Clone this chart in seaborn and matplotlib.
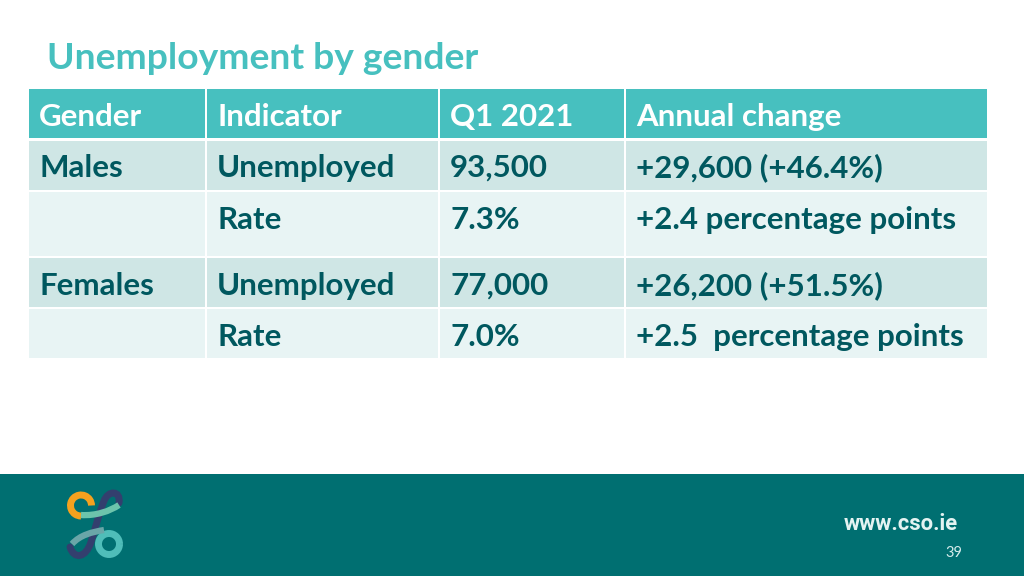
import matplotlib
matplotlib.use("Agg")
import matplotlib.pyplot as plt
from matplotlib.patches import Arc, Rectangle, PathPatch
from matplotlib.path import Path
import seaborn as sns

sns.set_theme(style="white")
plt.rcParams['font.family'] = ['Lato', 'DejaVu Sans']

title = "Unemployment by gender"
header = ["Gender", "Indicator", "Q1 2021", "Annual change"]
genders = ["Males", "", "Females", ""]
indicators = ["Unemployed", "Rate", "Unemployed", "Rate"]
q1_2021 = ["93,500", "7.3%", "77,000", "7.0%"]
annual_change = ["+29,600 (+46.4%)", "+2.4 percentage points",
                 "+26,200 (+51.5%)", "+2.5  percentage points"]
site = "www.cso.ie"
page = "39"

TEAL = '#47c0bf'
DARK = '#006f71'
BAND = '#cfe6e5'
LIGHT = '#e8f4f4'
INK = '#00585f'

col_edges = [(29, 205), (207, 438), (440, 624), (626, 987)]
row_edges = [(89, 138), (141, 190), (192, 256), (258, 307), (309, 358)]
# text baselines, so descenders do not shift a row
text_y = [126, 177, 229, 295, 346]
text_x = [39, 217, 450, 636]

fig, ax = plt.subplots(figsize=(10.24, 5.76), dpi=100)
fig.subplots_adjust(0, 0, 1, 1)
ax.set_xlim(0, 1024)
ax.set_ylim(576, 0)
ax.axis("off")

ax.text(47, 69, title, fontsize=26.8, fontweight='bold', color=TEAL, va='baseline')

# table cells
rows = [header] + [list(r) for r in zip(genders, indicators, q1_2021, annual_change)]
for i, (top, bottom) in enumerate(row_edges):
    fill = TEAL if i == 0 else (BAND if i in (1, 3) else LIGHT)
    colour = 'white' if i == 0 else INK
    for j, (left, right) in enumerate(col_edges):
        ax.add_patch(Rectangle((left, top), right - left, bottom - top, fc=fill, ec='none'))
        ax.text(text_x[j], text_y[i], rows[i][j], fontsize=22.5, fontweight='bold',
                color=colour, va='baseline')

# footer band
ax.add_patch(Rectangle((0, 474), 1024, 102, fc=DARK, ec='none'))
ax.text(844, 524, site, fontsize=15.8, fontweight='bold', family='Roboto', color='#e4f3f2', va='center')
ax.text(945, 553, page, fontsize=10.5, color='#d5ecec', va='center')

# logo
ax.add_patch(Arc((81, 505.5), 21, 21, theta1=90, theta2=360, lw=5, color='#f5a11e', capstyle='butt', zorder=3))
ax.add_patch(Arc((109, 544), 21, 21, lw=5, color='#4fbdb9', zorder=3))
band1 = Path([(81, 515), (96, 516), (110, 511), (119, 505)], [1, 4, 4, 4])
ax.add_patch(PathPatch(band1, fc='none', ec='#6cc4ac', lw=4.5, capstyle='butt', zorder=3))
stroke = Path([(70, 547), (74, 560), (86, 558), (91, 542), (96, 526), (100, 510), (104, 501), (108, 490), (121, 490), (119, 503)],
              [1, 4, 4, 4, 4, 4, 4, 4, 4, 4])
ax.add_patch(PathPatch(stroke, fc='none', ec='#333f6e', lw=5, capstyle='round', zorder=2))
band2 = Path([(72, 544), (80, 535), (92, 532), (104, 530)], [1, 4, 4, 4])
ax.add_patch(PathPatch(band2, fc='none', ec='#6aa6a8', lw=4.5, capstyle='butt', zorder=5))

fig.savefig('out.png', dpi=100)
